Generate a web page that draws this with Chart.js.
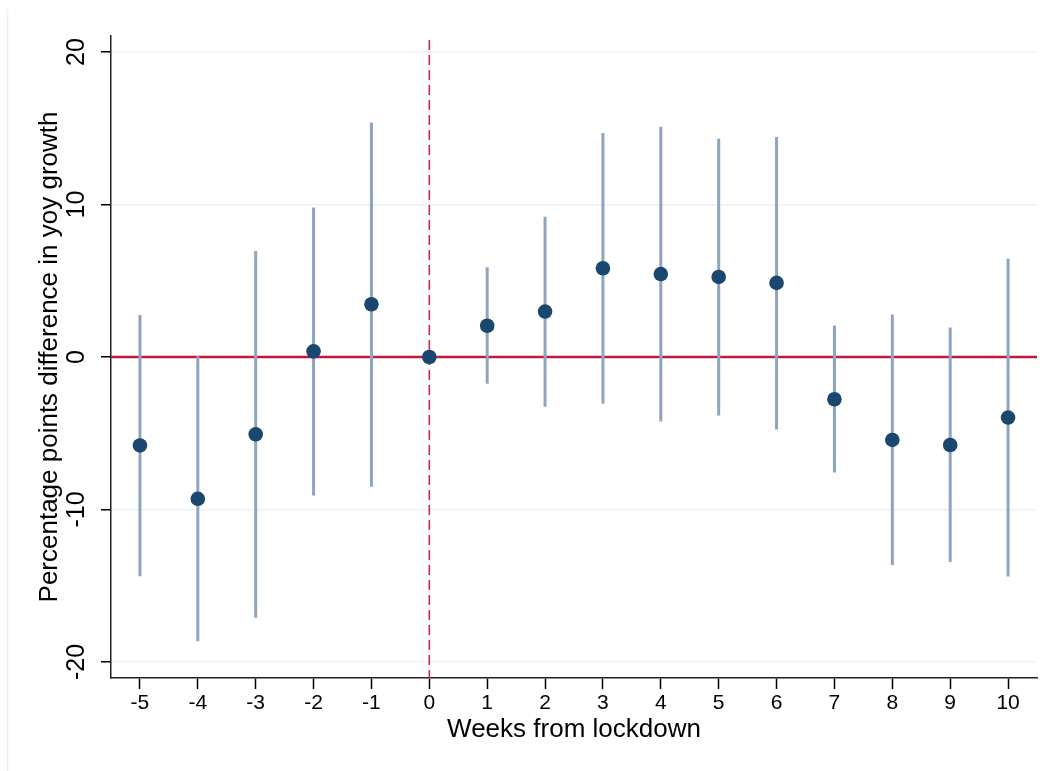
<!DOCTYPE html>
<html>
<head>
<meta charset="utf-8">
<title>Weeks from lockdown</title>
<script src="https://cdn.jsdelivr.net/npm/chart.js@4/dist/chart.umd.min.js"></script>
<style>
  html, body { margin: 0; padding: 0; background: #fff; }
  #c { display: block; }
</style>
</head>
<body>
<canvas id="c" width="1056" height="771"></canvas>
<script>
/* ── Data: event-study coefficients, 95% CI (week 0 = reference) ── */
const weeks  = [-5, -4, -3, -2, -1, 0, 1, 2, 3, 4, 5, 6, 7, 8, 9, 10];
const coef   = [-5.8, -9.3, -5.07, 0.37, 3.46, 0, 2.05, 2.98, 5.82, 5.44, 5.25, 4.86, -2.77, -5.44, -5.77, -3.97];
const ciLow  = [-14.37, -18.64, -17.1, -9.08, -8.51, null, -1.76, -3.27, -3.07, -4.23, -3.84, -4.75, -7.58, -13.64, -13.44, -14.4];
const ciHigh = [2.75, 0.05, 6.95, 9.8, 15.37, null, 5.88, 9.2, 14.69, 15.1, 14.32, 14.43, 2.06, 2.78, 1.93, 6.45];
const xTicks = [-5, -4, -3, -2, -1, 0, 1, 2, 3, 4, 5, 6, 7, 8, 9, 10];
const yTicks = [-20, -10, 0, 10, 20];

(function () {
  const FONT = "'Liberation Sans', Arial, Helvetica, sans-serif";
  const NAVY = "#1a476f", CI = "#8ea5bd", RED = "#c0183f", GRID = "#eaf2f3";

  // CI whiskers as one line dataset, broken by null gaps
  const ciData = [];
  weeks.forEach((w, i) => {
    if (ciLow[i] == null) return;
    ciData.push({ x: w, y: ciLow[i] }, { x: w, y: ciHigh[i] }, { x: w, y: null });
  });
  const ptData = weeks.map((w, i) => ({ x: w, y: coef[i] }));

  /* ── Reference lines (y = 0, dashed x = 0) under the marks ── */
  const refLines = {
    id: "refLines",
    beforeDatasetsDraw(chart) {
      const { ctx, chartArea: a, scales: { x, y } } = chart;
      ctx.save();
      ctx.strokeStyle = "#c8294f";
      ctx.lineWidth = 1.6;
      ctx.setLineDash([10, 5]);
      const px = x.getPixelForValue(0);
      ctx.beginPath(); ctx.moveTo(px, a.top + 4); ctx.lineTo(px, a.bottom); ctx.stroke();
      ctx.setLineDash([]);
      ctx.strokeStyle = RED;
      ctx.lineWidth = 2.5;
      const py = y.getPixelForValue(0);
      ctx.beginPath(); ctx.moveTo(a.left, py); ctx.lineTo(a.right, py); ctx.stroke();
      ctx.restore();
    }
  };

  /* ── Page background + faint outer frame ── */
  const frame = {
    id: "frame",
    beforeDraw(chart) {
      const { ctx, width, height } = chart;
      ctx.save();
      ctx.fillStyle = "#fff";
      ctx.fillRect(0, 0, width, height);
      ctx.strokeStyle = GRID;
      ctx.lineWidth = 1.5;
      ctx.beginPath(); ctx.moveTo(7.5, 9); ctx.lineTo(7.5, height); ctx.stroke();
      ctx.restore();
    }
  };

  new Chart(document.getElementById("c"), {
    type: "scatter",
    data: {
      datasets: [
        { data: ptData, order: 0, pointRadius: 7.3, pointHoverRadius: 7.3,
          backgroundColor: NAVY, borderWidth: 0, pointBorderWidth: 0 },
        { data: ciData, order: 1, showLine: true, spanGaps: false, pointRadius: 0,
          borderColor: CI, borderWidth: 3, borderCapStyle: "butt" }
      ]
    },
    options: {
      responsive: false,
      animation: false,
      layout: { padding: { left: 0, top: 36, right: 19, bottom: 0 } },
      plugins: { legend: { display: false }, tooltip: { enabled: false } },
      scales: {
        x: {
          type: "linear", min: -5.5, max: 10.5,
          afterBuildTicks: s => { s.ticks = xTicks.map(v => ({ value: v })); },
          afterFit: s => { s.height = 93; },
          grid: { drawOnChartArea: false, tickLength: 11, tickColor: "#000", tickWidth: 1.5 },
          border: { color: "#222", width: 1.5 },
          ticks: { font: { family: FONT, size: 21 }, color: "#000", padding: 2, maxRotation: 0 },
          title: { display: true, text: "Weeks from lockdown", color: "#000",
                   font: { family: FONT, size: 26 }, padding: { top: 0, bottom: 26 } }
        },
        y: {
          type: "linear", min: -21.05, max: 21.05,
          afterBuildTicks: s => { s.ticks = yTicks.map(v => ({ value: v })); },
          afterFit: s => { s.width = 111; },
          grid: { color: GRID, lineWidth: 1.5, tickLength: 10, tickColor: "#000", tickWidth: 1.5 },
          border: { color: "#222", width: 1.5 },
          ticks: { font: { family: FONT, size: 25 }, color: "#000", padding: 6,
                   minRotation: 90, maxRotation: 90, crossAlign: "center" },
          title: { display: true, text: "Percentage points difference in yoy growth", color: "#000",
                   font: { family: FONT, size: 26 }, padding: { top: 34, bottom: 0 } }
        }
      }
    },
    plugins: [frame, refLines]
  });
})();
</script>
</body>
</html>
